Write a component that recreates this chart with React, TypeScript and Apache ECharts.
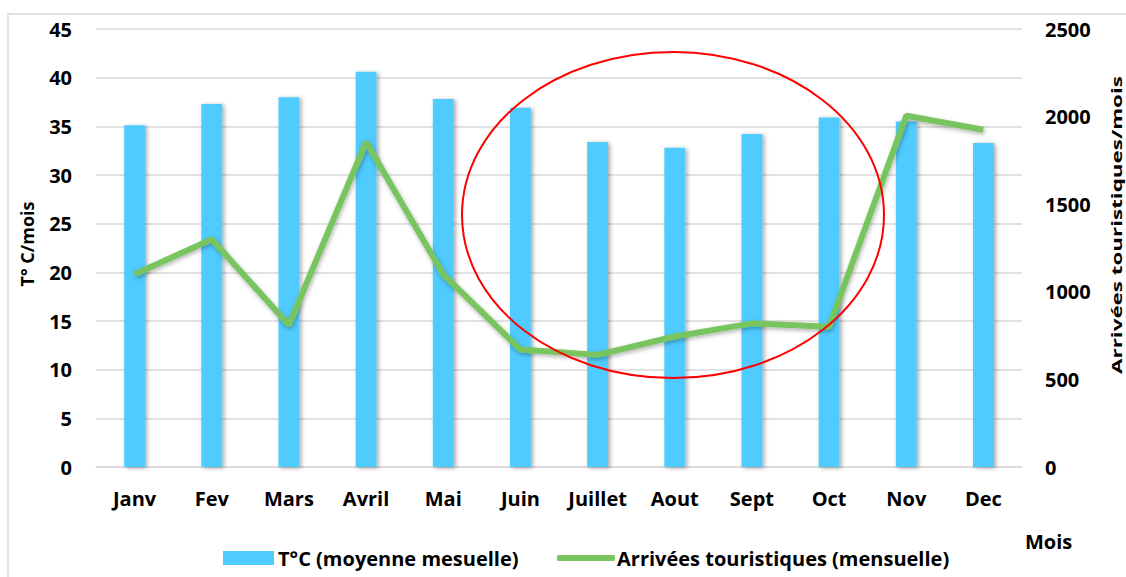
import React, { useEffect, useRef } from "react";
import * as echarts from "echarts";

const months = ["Janv", "Fev", "Mars", "Avril", "Mai", "Juin", "Juillet", "Aout", "Sept", "Oct", "Nov", "Dec"];
const temperature = [35.1, 37.3, 38.0, 40.6, 37.8, 36.9, 33.4, 32.8, 34.2, 35.9, 35.5, 33.3];
const arrivals = [1100, 1300, 810, 1855, 1100, 670, 640, 745, 820, 800, 2005, 1925];
const tempTicks = { min: 0, max: 45, interval: 5 };
const arrTicks = { min: 0, max: 2500, interval: 500 };

const FONT = "'Open Sans'";

export default function App() {
  const ref = useRef<HTMLDivElement>(null);
  useEffect(() => {
    if (!ref.current) return;
    const chart = echarts.init(ref.current, null, { renderer: "svg" });
    const labelStyle = { color: "#000", fontWeight: "bold" as const, fontSize: 20, fontFamily: FONT };
    chart.setOption({
      animation: false,
      backgroundColor: "#fff",
      grid: { left: 96, right: 104, top: 29, bottom: 110 },
      legend: [
        {
          left: 218,
          top: 543,
          itemWidth: 51,
          itemHeight: 14,
          data: [{ name: "T°C (moyenne mesuelle)", icon: "rect" }],
          textStyle: { ...labelStyle, padding: [0, 0, 0, -1] },
        },
        {
          left: 552,
          top: 543,
          itemWidth: 58,
          itemHeight: 6,
          data: [{ name: "Arrivées touristiques (mensuelle)", icon: "roundRect" }],
          textStyle: { ...labelStyle, padding: [0, 0, 0, -3] },
        },
      ],
      xAxis: {
        type: "category",
        data: months,
        axisTick: { show: false },
        axisLine: { lineStyle: { color: "#d9d9d9", width: 1.5 } },
        axisLabel: { ...labelStyle, margin: 21 },
      },
      yAxis: [
        {
          type: "value",
          ...tempTicks,
          axisLabel: { ...labelStyle, margin: 24 },
          axisLine: { show: false },
          axisTick: { show: false },
          splitLine: { lineStyle: { color: "#d9d9d9", width: 1.5 } },
        },
        {
          type: "value",
          ...arrTicks,
          axisLabel: { ...labelStyle, margin: 23, formatter: (v: number) => String(v) },
          axisLine: { show: false },
          axisTick: { show: false },
          splitLine: { show: false },
        },
      ],
      series: [
        {
          name: "T°C (moyenne mesuelle)",
          type: "bar",
          data: temperature,
          yAxisIndex: 0,
          barWidth: "27%",
          itemStyle: {
            color: "#4fcbff",
            shadowColor: "rgba(0,0,0,0.35)",
            shadowBlur: 4,
            shadowOffsetX: 2,
            shadowOffsetY: 1,
          },
        },
        {
          name: "Arrivées touristiques (mensuelle)",
          type: "line",
          data: arrivals,
          yAxisIndex: 1,
          symbol: "none",
          lineStyle: {
            color: "#78c55f",
            width: 6,
            shadowColor: "rgba(0,0,0,0.3)",
            shadowBlur: 4,
            shadowOffsetX: 1,
            shadowOffsetY: 2,
          },
          itemStyle: { color: "#78c55f" },
        },
      ],
      graphic: [
        {
          type: "polyline",
          shape: { points: [[8, 600], [8, 14], [1130, 14]] },
          style: { stroke: "#d9d9d9", lineWidth: 1.5, fill: "none" },
          silent: true,
        },
        {
          type: "ellipse",
          shape: { cx: 673, cy: 215, rx: 211, ry: 163 },
          style: { stroke: "#ff0000", lineWidth: 2, fill: "none" },
          z: 100,
          silent: true,
        },
        {
          type: "text",
          x: 27,
          y: 244,
          rotation: Math.PI / 2,
          style: {
            text: "T° C/mois",
            fill: "#000",
            font: `bold 18px ${FONT}`,
            align: "center",
            verticalAlign: "middle",
          },
        },
        {
          type: "text",
          x: 1116,
          y: 225,
          rotation: Math.PI / 2,
          scaleX: 1.6,
          style: {
            text: "Arrivées touristiques/mois",
            fill: "#000",
            font: `bold 14px ${FONT}`,
            align: "center",
            verticalAlign: "middle",
          },
        },
        {
          type: "text",
          x: 1025,
          y: 541,
          style: { text: "Mois", fill: "#000", font: `bold 20px ${FONT}`, verticalAlign: "middle" },
        },
      ],
    });
    return () => chart.dispose();
  }, []);
  return <div ref={ref} style={{ position: "fixed", left: 0, top: 0, width: 1126, height: 577 }} />;
}
